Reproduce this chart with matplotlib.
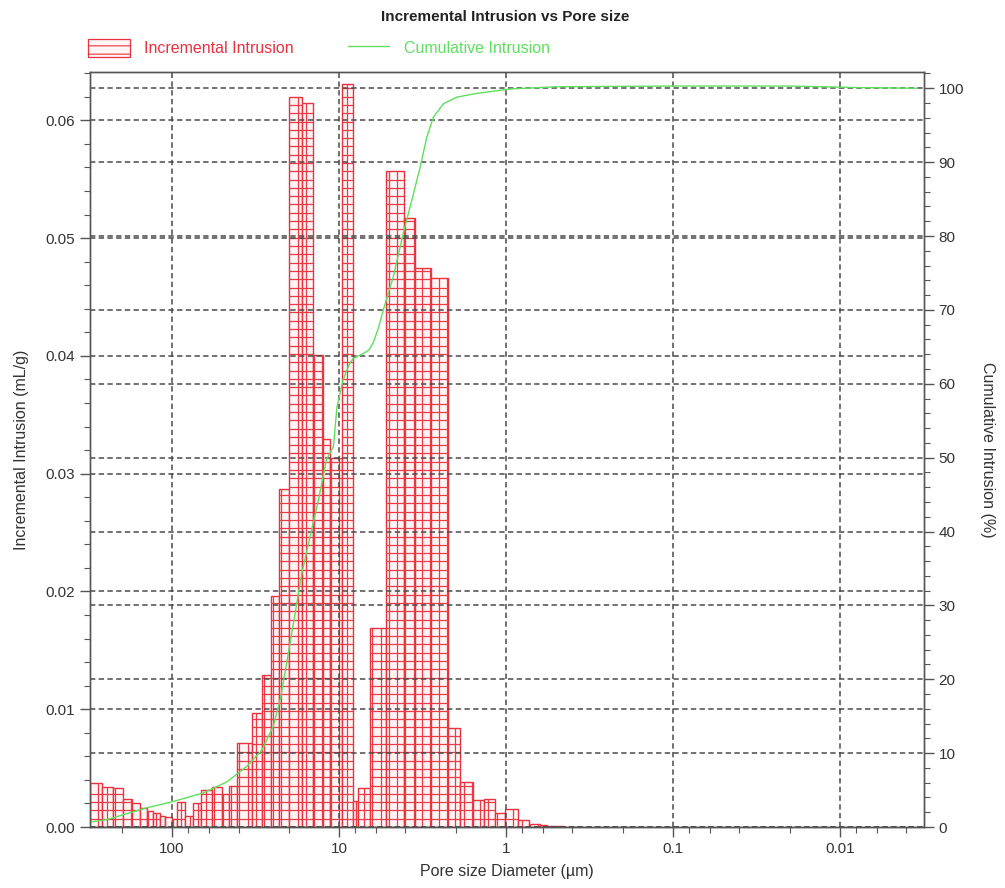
import numpy as np
import matplotlib
matplotlib.use('Agg')
import matplotlib.pyplot as plt
from matplotlib.ticker import FixedLocator, MultipleLocator, FormatStrFormatter, LogLocator, NullFormatter
from matplotlib.patches import Patch
from matplotlib.lines import Line2D
from matplotlib.collections import LineCollection

plt.rcParams['font.family'] = ['Liberation Sans', 'DejaVu Sans']
plt.rcParams['hatch.linewidth'] = 0.8

# pore size class boundaries (um), largest first
bin_edges = [310, 263.6, 224.6, 195.7, 172.9, 155.4, 141.8, 129.4, 118.0, 110.1,
             100.4, 92.96, 83.6, 74.6, 67.3, 57.8, 50.4, 45.4, 40.6, 33.3,
             29.0, 25.5, 22.8, 19.8, 16.7, 14.4, 12.5, 11.3, 9.66, 8.30,
             7.73, 6.52, 5.23, 4.06, 3.53, 2.82, 2.22, 1.89, 1.57, 1.36,
             1.16, 1.01, 0.844, 0.728, 0.626, 0.571, 0.509, 0.45, 0.40, 0.35]

# incremental intrusion per class (mL/g)
incremental = [0.0037, 0.0034, 0.0033, 0.0024, 0.0020, 0.0016, 0.0014, 0.0012, 0.0009,
               0.00088, 0.0007, 0.0021, 0.0009, 0.0020, 0.0031, 0.0034, 0.0028, 0.0035,
               0.0071, 0.0097, 0.0129, 0.0196, 0.0287, 0.0620, 0.0615, 0.0401, 0.0329,
               0.0313, 0.0631, 0.0022, 0.0033, 0.0169, 0.0557, 0.0517, 0.0475, 0.0466,
               0.0084, 0.0038, 0.0023, 0.0024, 0.0012, 0.0015, 0.0006, 0.00025, 0.00015,
               0.00008, 0.00005, 0.00003, 0.00002]

# cumulative intrusion curve (%)
cum_diameter = [301, 246, 141.8, 100.4, 65.2, 47.0, 35.7, 29.0, 24.8, 22.5, 19.6, 18.3,
                16.7, 14.9, 13.3, 11.9, 10.8, 10.3, 9.47, 8.7, 8.24, 7.6, 7.15, 6.6,
                6.23, 5.8, 5.43, 4.73, 4.12, 3.67, 3.27, 2.98, 2.72, 2.37, 1.97, 1.50,
                0.946, 0.5, 0.1, 0.02, 0.008, 0.0035]
cum_percent = [0.7, 1.0, 2.6, 3.4, 4.6, 6.1, 8.2, 10.4, 13.6, 17.2, 25.0, 29.0,
               34.4, 39.3, 44.2, 49.7, 51.5, 56.8, 60.5, 62.6, 63.4, 63.8, 64.1, 64.6,
               65.6, 67.6, 70.0, 74.5, 80.4, 84.8, 89.3, 93.4, 96.1, 97.9, 98.8, 99.3,
               99.9, 100.2, 100.3, 100.3, 100.1, 100.0]

xticks = [100, 10, 1, 0.1, 0.01]
xticklabels = ['100', '10', '1', '0.1', '0.01']

red = '#e8323f'
green = '#5ee05e'
gridc = '#4a4a4a'
txtc = '#333333'

fig = plt.figure(figsize=(10.05, 8.88), dpi=100)
ax = fig.add_axes([90 / 1005, 61 / 888, 834 / 1005, 755 / 888])
ax2 = ax.twinx()

ax.set_xscale('log')
ax.set_xlim(310, 0.00314)
ax.set_ylim(0, 0.0641)
ax2.set_ylim(0, 102.2)

edges = np.array(bin_edges)
heights = np.array(incremental)
ax.bar(edges[1:], heights, width=edges[:-1] - edges[1:], align='edge',
       facecolor='#fff5f5', edgecolor=red, linewidth=1.0, zorder=2)

# grid-like fill of the bars, fixed pitch in pixels
pitch = 8.3
pos = ax.get_position()
w_px = pos.width * fig.get_figwidth() * fig.dpi
h_px = pos.height * fig.get_figheight() * fig.dpi
x_hi, x_lo = ax.get_xlim()
dlog = pitch * (np.log10(x_hi) - np.log10(x_lo)) / w_px
dy = pitch * ax.get_ylim()[1] / h_px
xgrid = 10 ** (np.log10(x_hi) - dlog * np.arange(1, 200))
segs = []
for lo, hi, h in zip(edges[1:], edges[:-1], heights):
    for y in np.arange(dy, h - dy * 0.3, dy):
        segs.append([(hi, y), (lo, y)])
    for x in xgrid[(xgrid < hi * 0.995) & (xgrid > lo * 1.005)]:
        segs.append([(x, 0), (x, h)])
ax.add_collection(LineCollection(segs, colors='#ec3a46', linewidths=0.9, zorder=2.1))

ax.xaxis.set_major_locator(FixedLocator(xticks))
ax.set_xticklabels(xticklabels)
ax.xaxis.set_minor_locator(LogLocator(base=10, subs=(2, 4, 6, 8), numticks=20))
ax.xaxis.set_minor_formatter(NullFormatter())

ax.yaxis.set_major_locator(MultipleLocator(0.01))
ax.yaxis.set_minor_locator(MultipleLocator(0.002))
ax.yaxis.set_major_formatter(FormatStrFormatter('%.2f'))
ax2.yaxis.set_major_locator(MultipleLocator(10))
ax2.yaxis.set_minor_locator(MultipleLocator(2))

dash = (0, (3.5, 2.2))
ax.set_axisbelow(False)
ax.grid(True, which='major', axis='both', color=gridc, linestyle=dash, linewidth=1.1, zorder=3)
ax2.grid(True, which='major', axis='y', color=gridc, linestyle=dash, linewidth=1.1)

ax2.plot(cum_diameter, cum_percent, color=green, linewidth=1.0, zorder=5)

for a in (ax, ax2):
    a.tick_params(which='major', direction='out', length=7, width=1, color='#555555',
                  labelsize=11, labelcolor=txtc)
    a.tick_params(which='minor', direction='out', length=4, width=0.8, color='#555555')
    for s in a.spines.values():
        s.set_color('#555555')
        s.set_linewidth(1.0)
ax.spines['bottom'].set_color('#222222')

ax.set_xlabel('Pore size Diameter (\u00b5m)', fontsize=11.5, color=txtc, labelpad=6)
ax.set_ylabel('Incremental Intrusion (mL/g)', fontsize=11.5, color=txtc, labelpad=12)
ax2.set_ylabel('Cumulative Intrusion (%)', fontsize=11.5, color=txtc, rotation=270, labelpad=22)

fig.text(0.503, 0.981, 'Incremental Intrusion vs Pore size', ha='center', va='center',
         fontsize=11, fontweight='bold', color='#222222')

handles = [Patch(facecolor='#fff5f5', edgecolor=red, hatch='--', linewidth=0.9),
           Line2D([], [], color=green, linewidth=1.0)]
leg = fig.legend(handles, ['Incremental Intrusion', 'Cumulative Intrusion'],
                 loc='center left', bbox_to_anchor=(88 / 1005, 1 - 48 / 888), ncol=2,
                 frameon=False, fontsize=11.5, handlelength=2.6, handleheight=1.3,
                 handletextpad=0.9, columnspacing=3.4, borderpad=0, borderaxespad=0)
for t, c in zip(leg.get_texts(), [red, green]):
    t.set_color(c)

fig.savefig('out.png', dpi=100)
